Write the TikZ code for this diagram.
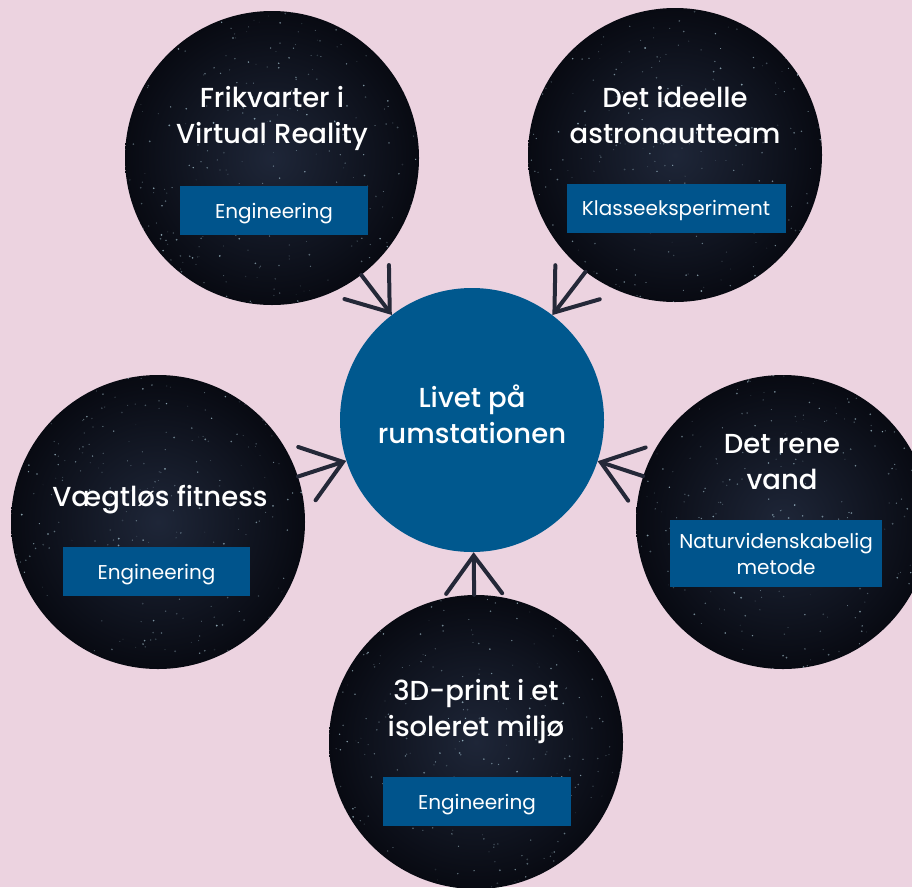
\documentclass[tikz,border=0pt]{standalone}
\usepackage{fontspec}
\setmainfont{Poppins}
\newfontfamily\tfont{Poppins Medium}
\newfontfamily\bfont{Poppins}
\usetikzlibrary{arrows.meta}
\definecolor{bg}{RGB}{236,211,224}
\definecolor{hub}{RGB}{0,88,142}
\definecolor{boxc}{RGB}{0,84,140}
\definecolor{spaceIn}{RGB}{30,38,56}
\definecolor{spaceOut}{RGB}{8,10,18}
\definecolor{arrowc}{RGB}{36,40,56}
\newcommand\mystars[3]{%
  \begin{scope}
    \clip (#1,#2) circle (#3);
    \foreach \k in {1,...,320}{%
      \pgfmathsetmacro\sx{#1+(2*rnd-1)*#3}%
      \pgfmathsetmacro\sy{#2+(2*rnd-1)*#3}%
      \pgfmathsetmacro\so{0.12+0.55*rnd}%
      \pgfmathsetmacro\sr{0.4+0.6*rnd}%
      \fill[white!80!cyan, opacity=\so] (\sx,\sy) circle (\sr);
    }
  \end{scope}}
\begin{document}
\begin{tikzpicture}[x=1pt,y=-1pt,
  space/.style={circle, minimum size=294pt, inner sep=0pt, draw=none,
    inner color=spaceIn, outer color=spaceOut},
  ttl/.style={text=white, align=center, font=\tfont\fontsize{27.5}{36}\selectfont},
  tag/.style={fill=boxc, text=white, align=center, inner sep=0pt,
    minimum height=49pt, text depth=0pt, font=\bfont\fontsize{20}{26}\selectfont},
  conn/.style={draw=arrowc, line width=4pt, line cap=round,
    -{Straight Barb[length=38pt,width=56pt,line cap=round]}}]
\fill[bg] (0,0) rectangle (912,887);
\useasboundingbox (0,0) rectangle (912,887);
\pgfmathsetseed{7}
% outer circles
\node[space] (tl) at (272,158) {};
\node[space] (tr) at (675,155) {};
\node[space] (lf) at (158,522) {};
\node[space] (rt) at (783,522) {};
\node[space] (bt) at (476,742) {};
\mystars{272}{158}{147}
\mystars{675}{155}{147}
\mystars{158}{522}{147}
\mystars{783}{522}{147}
\mystars{476}{742}{147}
% hub
\node[circle, fill=hub, minimum size=264pt, inner sep=0pt] (c) at (472,420) {};
\node[ttl] (ct) at (472,414) {Livet på\\rumstationen};
% titles
\node[ttl] (tlt) at (272,118) {Frikvarter i\\Virtual Reality};
\node[ttl] (trt) at (675,115.5) {Det ideelle\\astronautteam};
\node[ttl] (lft) at (160,500) {Vægtløs fitness};
\node[ttl] (rtt) at (782,462) {Det rene\\vand};
\node[ttl] (btt) at (476,711) {3D-print i et\\isoleret miljø};
% tags
\node[tag, minimum width=188pt] (tlb) at (274,210.5) {Engineering};
\node[tag, minimum width=219pt] (trb) at (676,208) {Klasseeksperiment};
\node[tag, minimum width=187pt] (lfb) at (156.5,571.5) {Engineering};
\node[tag, minimum width=212pt, minimum height=67pt] (rtb) at (776,553.5) {Naturvidenskabelig\\metode};
\node[tag, minimum width=188pt] (btb) at (477,801.5) {Engineering};
% connectors
\draw[conn] (tl) -- (c);
\draw[conn] (tr) -- (c);
\draw[conn] (lf) -- (c);
\draw[conn] (rt) -- (c);
\draw[conn] (bt) -- (c);
\end{tikzpicture}
\end{document}
